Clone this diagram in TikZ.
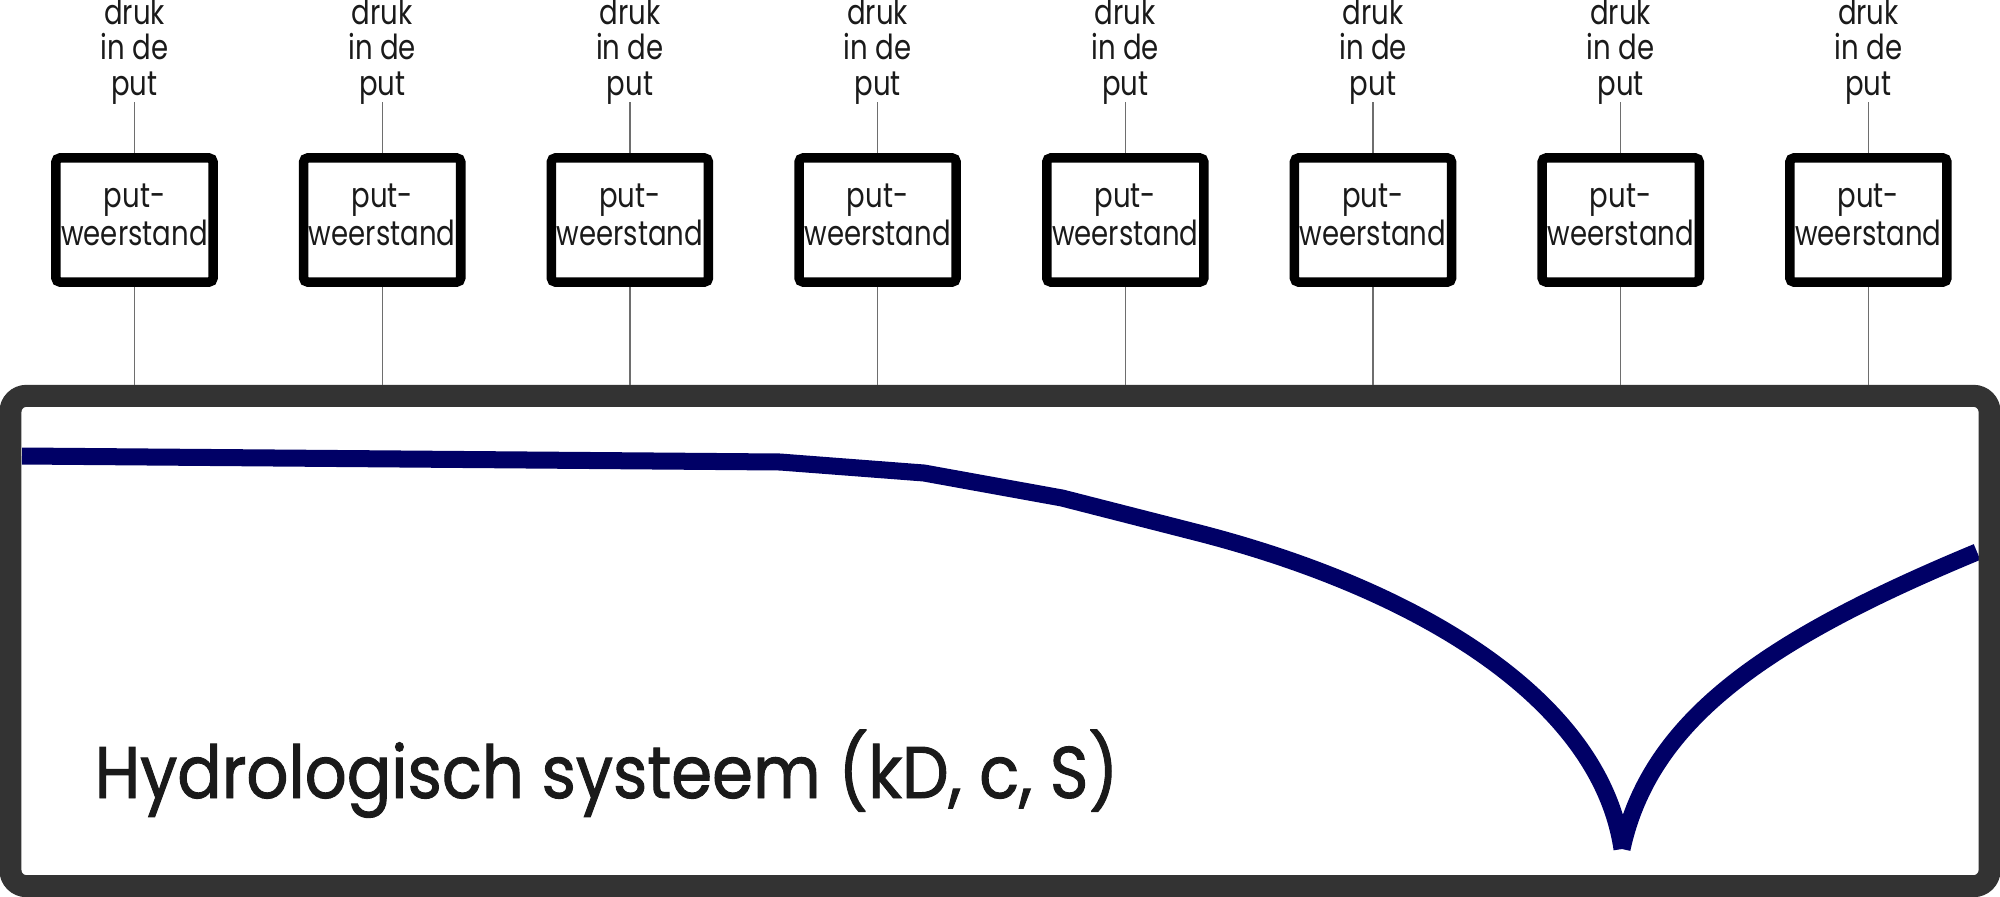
\documentclass[tikz,border=0pt]{standalone}
\usepackage{fontspec}
\newfontfamily\smallf{Poppins}[FakeStretch=0.8]
\newfontfamily\bigf{Poppins}[FakeStretch=0.9,FakeBold=1.3]
\definecolor{navy}{HTML}{000066}
\definecolor{framec}{HTML}{333333}
\definecolor{wirec}{HTML}{6E6E6E}
\definecolor{textc}{HTML}{1A1A1A}
\begin{document}
\begin{tikzpicture}[x=0.01cm,y=-0.01cm,
  lbl/.style={font=\smallf\fontsize{9.8pt}{10.1pt}\selectfont, align=center, inner sep=0pt, outer ysep=-0.57pt, anchor=south, text=textc},
  wbox/.style={draw=black, line width=0.95mm, minimum width=1.57cm, minimum height=1.24cm, rounded corners=0.4mm, inner sep=0pt, text depth=3.2pt, font=\smallf\fontsize{9.8pt}{9.6pt}\selectfont, align=center, text=textc},
  wire/.style={draw=wirec, line width=0.4pt},
  sysbox/.style={draw=framec, line width=2.2mm, rounded corners=1.6mm, minimum width=19.78cm, minimum height=4.9cm, inner sep=0pt},
  head/.style={draw=navy, line width=1.7mm, line join=round, line cap=butt},
  ttl/.style={font=\bigf\fontsize{20.8pt}{24pt}\selectfont, anchor=base west, inner sep=0pt, text=textc}
]
\useasboundingbox (0,0) rectangle (2000,897);
\coordinate (tip) at (1622,849);
\draw[head] (22,456) -- (780,462) -- (924,473) -- (1062,498) -- (1199,533)
  .. controls (1420,590) and (1600,700) .. (tip);
\draw[head] (tip) .. controls (1650,720) and (1765,640) .. (1977,552);
\node[sysbox] (sys) at (1000,641) {};
\node[ttl] (title) at (94,798) {Hydrologisch systeem (kD, c, S)};
\foreach \i in {1,...,8} {
  \pgfmathsetmacro\xx{134.5+247.7*(\i-1)}
  \node[wbox] (b\i) at (\xx,220) {put-\\weerstand};
  \node[lbl] (l\i) at (\xx,102) {druk\\in de\\put};
  \draw[wire] (l\i.south) -- (b\i.north);
  \draw[wire] (b\i.south) -- (b\i.south |- sys.north);
}
\end{tikzpicture}
\end{document}
